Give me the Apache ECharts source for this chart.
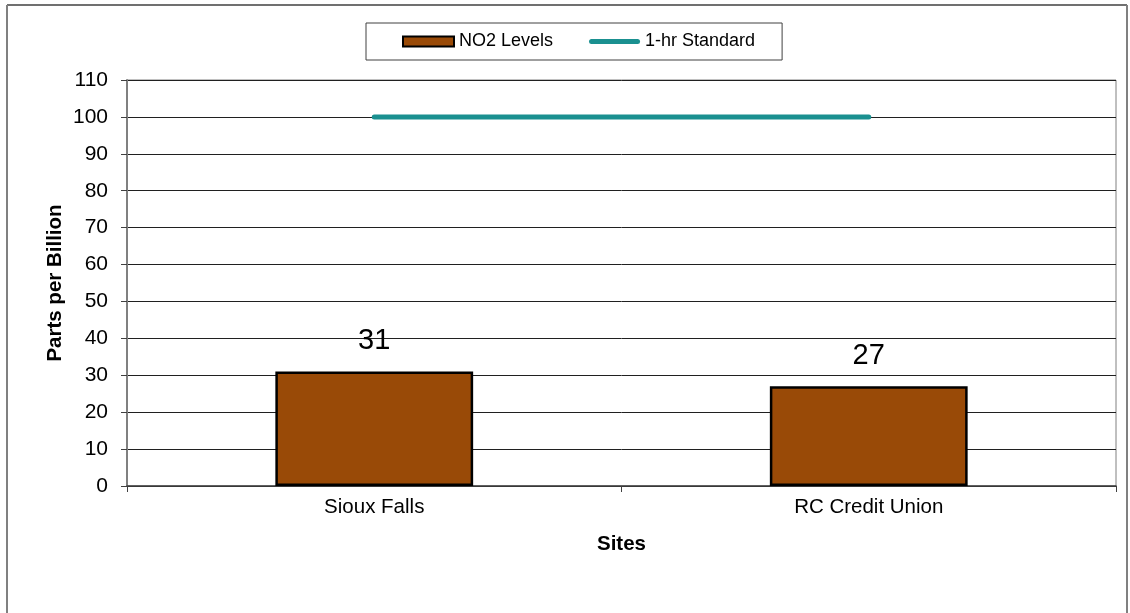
<!DOCTYPE html>
<html>
<head>
<meta charset="utf-8">
<script src="https://cdn.jsdelivr.net/npm/echarts@6/dist/echarts.min.js"></script>
<style>
html,body{margin:0;padding:0;background:#fff;}
#c{width:1130px;height:613px;}
</style>
</head>
<body>
<div id="c"></div>
<script>
var categories = ['Sioux Falls', 'RC Credit Union'];
var no2Levels = [31, 27];
var standard1hr = [100, 100];
var yTicks = {min: 0, max: 110, interval: 10};

var chart = echarts.init(document.getElementById('c'), null, {renderer: 'canvas'});
var FONT = '"Liberation Sans", Arial, sans-serif';
chart.setOption({
  backgroundColor: '#fff',
  animation: false,
  textStyle: {fontFamily: FONT},
  graphic: [
    {type: 'line', shape: {x1: 7, y1: 5, x2: 1127, y2: 5}, style: {stroke: '#404040', lineWidth: 1.5}, silent: true},
    {type: 'line', shape: {x1: 7, y1: 5, x2: 7, y2: 613}, style: {stroke: '#808080', lineWidth: 2}, silent: true},
    {type: 'line', shape: {x1: 1127, y1: 5, x2: 1127, y2: 613}, style: {stroke: '#808080', lineWidth: 2}, silent: true}
  ],
  legend: {
    left: 366, top: 23,
    padding: [9.5, 27, 9.5, 36],
    itemGap: 36,
    itemWidth: 51, itemHeight: 10,
    borderColor: '#404040', borderWidth: 1,
    backgroundColor: '#fff',
    textStyle: {fontFamily: FONT, fontSize: 18, color: '#000'},
    data: [
      {name: 'NO2 Levels', icon: 'rect'},
      {name: '1-hr Standard', icon: 'path://M2.5,0 L48.5,0 A2.5,2.5 0 0 1 48.5,5 L2.5,5 A2.5,2.5 0 0 1 2.5,0 Z'}
    ]
  },
  grid: {
    left: 127, right: 14, top: 80, bottom: 127,
    show: true, borderColor: '#808080', borderWidth: 1
  },
  xAxis: {
    type: 'category',
    data: categories,
    boundaryGap: true,
    name: 'Sites',
    nameLocation: 'middle',
    nameGap: 48,
    nameTextStyle: {fontFamily: FONT, fontSize: 20.5, fontWeight: 'bold', color: '#000'},
    axisLine: {lineStyle: {color: '#404040', width: 1.5}},
    axisTick: {show: true, length: 6, lineStyle: {color: '#404040'}},
    axisLabel: {fontFamily: FONT, fontSize: 20.5, color: '#000', margin: 11}
  },
  yAxis: {
    type: 'value',
    min: yTicks.min, max: yTicks.max, interval: yTicks.interval,
    name: 'Parts per Billion',
    nameLocation: 'middle',
    nameMoveOverlap: false,
    nameGap: 61,
    nameTextStyle: {fontFamily: FONT, fontSize: 20.5, fontWeight: 'bold', color: '#000'},
    axisLine: {show: true, lineStyle: {color: '#808080', width: 2}},
    axisTick: {show: true, length: 6, lineStyle: {color: '#404040'}},
    axisLabel: {fontFamily: FONT, fontSize: 21, color: '#000', margin: 19},
    splitLine: {show: true, lineStyle: {color: '#202020', width: 1}}
  },
  series: [
    {
      name: 'NO2 Levels',
      type: 'bar',
      data: no2Levels,
      barWidth: '40%',
      itemStyle: {color: '#994A07', borderColor: '#000', borderWidth: 2.5},
      label: {show: true, position: 'top', distance: 16, fontFamily: FONT, fontSize: 29, color: '#000'}
    },
    {
      name: '1-hr Standard',
      type: 'line',
      data: standard1hr,
      symbol: 'none',
      lineStyle: {color: '#1A9090', width: 5, cap: 'round'},
      itemStyle: {color: '#1A9090'},
      z: 3
    }
  ]
});
</script>
</body>
</html>
